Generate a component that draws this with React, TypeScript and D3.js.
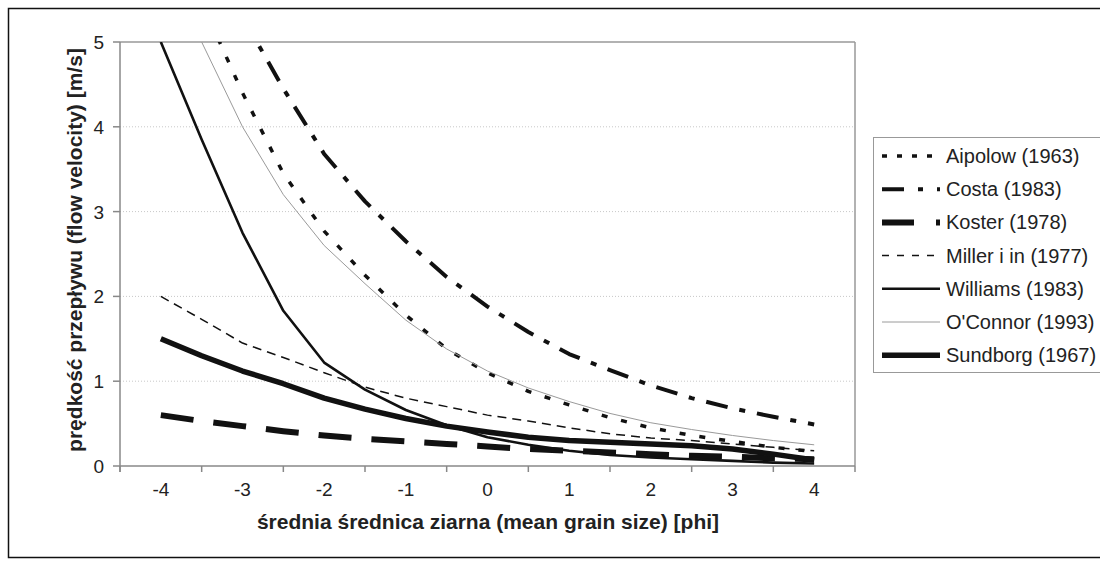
import * as d3 from "d3";

// phi steps (mean grain size)
const PHI = [-4, -3.5, -3, -2.5, -2, -1.5, -1, -0.5, 0, 0.5, 1, 1.5, 2, 2.5, 3, 3.5, 4];

const AIPOLOW = [null, 5.47, 4.4, 3.45, 2.77, 2.25, 1.78, 1.38, 1.1, 0.88, 0.72, 0.57, 0.45, 0.36, 0.29, 0.22, 0.17];
const COSTA = [null, null, 5.3, 4.45, 3.68, 3.12, 2.65, 2.23, 1.88, 1.58, 1.32, 1.13, 0.95, 0.8, 0.68, 0.58, 0.49];
const KOSTER = [0.6, 0.53, 0.47, 0.41, 0.36, 0.32, 0.29, 0.26, 0.23, 0.2, 0.18, 0.16, 0.14, 0.12, 0.11, 0.09, 0.08];
const MILLER = [2.0, 1.73, 1.45, 1.28, 1.1, 0.93, 0.8, 0.7, 0.6, 0.53, 0.45, 0.38, 0.33, 0.3, 0.26, 0.22, 0.18];
const WILLIAMS = [5.0, 3.85, 2.75, 1.83, 1.22, 0.9, 0.66, 0.48, 0.34, 0.25, 0.18, 0.13, 0.1, 0.08, 0.06, 0.04, 0.03];
const OCONNOR = [null, 5.0, 4.0, 3.2, 2.6, 2.15, 1.72, 1.38, 1.12, 0.92, 0.76, 0.62, 0.51, 0.43, 0.36, 0.3, 0.25];
const SUNDBORG = [1.5, 1.3, 1.12, 0.97, 0.8, 0.67, 0.56, 0.47, 0.4, 0.34, 0.3, 0.28, 0.26, 0.24, 0.2, 0.14, 0.07];

const X_LABELS = [-4, -3, -2, -1, 0, 1, 2, 3, 4];
const X_TICKS = [-4.5, -3.5, -2.5, -1.5, -0.5, 0.5, 1.5, 2.5, 3.5, 4.5];
const Y_TICKS = [0, 1, 2, 3, 4, 5];

const SERIES = [
  { name: "Aipolow (1963)", values: AIPOLOW, color: "#111", width: 3.5, dash: "6 14", legendDash: "5 10" },
  { name: "Costa (1983)", values: COSTA, color: "#111", width: 4, dash: "22 12 6 12", legendDash: "22 14 5 14" },
  { name: "Koster (1978)", values: KOSTER, color: "#111", width: 6, dash: "33 20", legendDash: "32 22" },
  { name: "Miller i in (1977)", values: MILLER, color: "#111", width: 1.5, dash: "9 6", legendDash: "7 8" },
  { name: "Williams (1983)", values: WILLIAMS, color: "#111", width: 2.6, dash: null, legendDash: null },
  { name: "O'Connor (1993)", values: OCONNOR, color: "#9a9a9a", width: 1, dash: null, legendDash: null },
  { name: "Sundborg (1967)", values: SUNDBORG, color: "#111", width: 5.5, dash: null, legendDash: null },
];

const FONT = "'Liberation Sans', Arial, sans-serif";

export default function App() {
  const width = 1100;
  const height = 566;
  const plot = { left: 120, right: 855, top: 42, bottom: 466 };

  const x = d3.scaleLinear().domain([-4.5, 4.5]).range([plot.left, plot.right]);
  const y = d3.scaleLinear().domain([0, 5]).range([plot.bottom, plot.top]);

  const line = d3
    .line<{ p: number; v: number | null }>()
    .defined((d) => d.v != null)
    .x((d) => x(d.p))
    .y((d) => y(d.v as number));

  const legend = { x: 873, y: 137, rowH: 33.2 };

  return (
    <svg
      width={width}
      height={height}
      style={{ position: "absolute", left: 0, top: 0, background: "#fff" }}
      fontFamily={FONT}
    >
      <defs>
        <clipPath id="plot-clip">
          <rect x={plot.left} y={plot.top} width={plot.right - plot.left} height={plot.bottom - plot.top} />
        </clipPath>
      </defs>

      {/* chart frame */}
      <rect x={8.5} y={8.5} width={1120} height={549} fill="#fff" stroke="#111" strokeWidth={1.5} />

      {/* gridlines */}
      {Y_TICKS.filter((t) => t > 0 && t < 5).map((t) => (
        <line
          key={"g" + t}
          x1={plot.left}
          x2={plot.right}
          y1={y(t)}
          y2={y(t)}
          stroke="#c8c8c8"
          strokeWidth={1}
          strokeDasharray="1 2"
        />
      ))}

      {/* plot area border */}
      <line x1={plot.left} x2={plot.right} y1={plot.top} y2={plot.top} stroke="#999" strokeWidth={1.5} />
      <line x1={plot.right} x2={plot.right} y1={plot.top} y2={plot.bottom} stroke="#999" strokeWidth={1.5} />

      {/* axes */}
      <line x1={plot.left} x2={plot.left} y1={plot.top} y2={plot.bottom + 6} stroke="#888" strokeWidth={1.5} />
      <line x1={plot.left} x2={plot.right} y1={plot.bottom} y2={plot.bottom} stroke="#888" strokeWidth={1.5} />
      {Y_TICKS.map((t) => (
        <g key={"y" + t}>
          <line x1={plot.left - 7} x2={plot.left} y1={y(t)} y2={y(t)} stroke="#888" strokeWidth={1.5} />
          <text x={104} y={y(t) + 7} textAnchor="end" fontSize={19} fill="#222">
            {t}
          </text>
        </g>
      ))}
      {X_TICKS.map((t) => (
        <line key={"xt" + t} x1={x(t)} x2={x(t)} y1={plot.bottom} y2={plot.bottom + 6} stroke="#888" strokeWidth={1.5} />
      ))}
      {X_LABELS.map((t) => (
        <text key={"xl" + t} x={x(t)} y={496} textAnchor="middle" fontSize={19} fill="#222">
          {t}
        </text>
      ))}

      <text x={488} y={529} textAnchor="middle" fontSize={21} fontWeight="bold" fill="#222">
        średnia średnica ziarna (mean grain size) [phi]
      </text>
      <text
        transform={`translate(82,${(plot.top + plot.bottom) / 2 - 4}) rotate(-90)`}
        textAnchor="middle"
        fontSize={21}
        fontWeight="bold"
        fill="#222"
      >
        prędkość przepływu (flow velocity) [m/s]
      </text>

      {/* series */}
      <g clipPath="url(#plot-clip)">
        {SERIES.map((s) => (
          <path
            key={s.name}
            d={line(PHI.map((p, i) => ({ p, v: s.values[i] }))) || ""}
            fill="none"
            stroke={s.color}
            strokeWidth={s.width}
            strokeDasharray={s.dash || undefined}
            strokeLinejoin="round"
          />
        ))}
      </g>

      {/* legend */}
      <rect
        x={legend.x + 0.5}
        y={legend.y + 0.5}
        width={260}
        height={235}
        fill="#fff"
        stroke="#999"
        strokeWidth={1}
      />
      {SERIES.map((s, i) => {
        const cy = legend.y + 19 + i * legend.rowH;
        return (
          <g key={"lg" + s.name}>
            <line
              x1={882}
              x2={940}
              y1={cy}
              y2={cy}
              stroke={s.color}
              strokeWidth={s.width}
              strokeDasharray={s.legendDash || undefined}
            />
            <text x={946} y={cy + 7} fontSize={20} fill="#222">
              {s.name}
            </text>
          </g>
        );
      })}
    </svg>
  );
}
